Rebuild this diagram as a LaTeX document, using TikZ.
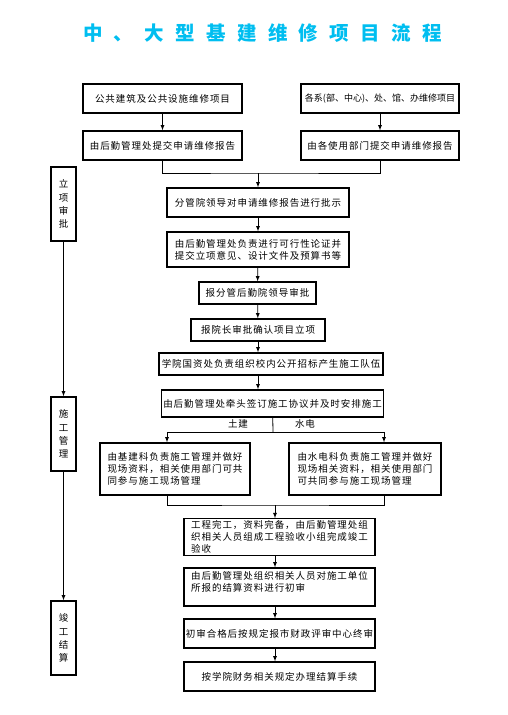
\documentclass[tikz,border=0pt]{standalone}
\usepackage{fontspec}
\setmainfont{Noto Sans CJK SC}
\definecolor{titlecyan}{RGB}{0,190,240}
\newcommand{\boxfont}{\fontsize{9.5}{11.8}\selectfont\addfontfeature{LetterSpace=10}}
\newcommand{\sidefont}{\fontsize{9.5}{13.3}\selectfont}
\tikzset{
  procbox/.style={draw,line width=1.3pt,minimum height=29pt,inner sep=2pt,font=\boxfont},
  sidebox/.style={draw,line width=1.3pt,minimum width=25pt,minimum height=74pt,align=center,font=\sidefont},
  flow/.style={->,>=latex,line width=0.8pt},
  link/.style={line width=0.8pt},
}
\begin{document}
\begin{tikzpicture}[x=1pt,y=-1pt]
\useasboundingbox (0,0) rectangle (507,715);
\node[anchor=west,inner sep=0pt,text=titlecyan,font=\fontsize{19.5}{21}\selectfont\bfseries\addfontfeature{LetterSpace=58}] (T) at (83,33) {中、大型基建维修项目流程};
% project approval
\node[procbox,minimum width=159pt] (P1) at (162.5,98.5) {公共建筑及公共设施维修项目};
\node[procbox,minimum width=158pt,font=\fontsize{9}{11}\selectfont] (P2) at (380,98.5) {各系(部、中心)、处、馆、办维修项目};
\node[procbox,minimum width=159pt] (P3) at (162.5,145.5) {由后勤管理处提交申请维修报告};
\node[procbox,minimum width=158pt] (P4) at (380,145.5) {由各使用部门提交申请维修报告};
\node[procbox,minimum width=182pt] (P5) at (258,202.5) {分管院领导对申请维修报告进行批示};
\node[procbox,minimum width=182pt,minimum height=35pt,align=center] (P6) at (258,249.5) {由后勤管理处负责进行可行性论证并\\提交立项意见、设计文件及预算书等};
\node[procbox,minimum width=117pt,minimum height=22pt] (P7) at (257.5,293) {报分管后勤院领导审批};
\node[procbox,minimum width=134pt,minimum height=22pt] (P8) at (258,330) {报院长审批确认项目立项};
% construction
\node[procbox,minimum width=224pt,minimum height=22pt] (P9) at (271,364) {学院国资处负责组织校内公开招标产生施工队伍};
\node[procbox,minimum width=221pt,minimum height=27pt] (P10) at (272.5,403.5) {由后勤管理处牵头签订施工协议并及时安排施工};
\node[procbox,minimum width=150pt,minimum height=52pt,align=left] (P11) at (175,469) {由基建科负责施工管理并做好\\现场资料，相关使用部门可共\\同参与施工现场管理};
\node[procbox,minimum width=152pt,minimum height=52pt,align=left] (P12) at (365,469) {由水电科负责施工管理并做好\\现场相关资料，相关使用部门\\可共同参与施工现场管理};
\node[font=\boxfont] (L1) at (238,424) {土建};
\node[font=\boxfont] (L2) at (305,424) {水电};
% completion and settlement
\node[procbox,minimum width=191pt,minimum height=36pt,align=left] (P13) at (279.5,537) {工程完工，资料完备，由后勤管理处组\\织相关人员组成工程验收小组完成竣工\\验收};
\node[procbox,minimum width=191pt,minimum height=38pt,align=left] (P14) at (279.5,587) {由后勤管理处组织相关人员对施工单位\\所报的结算资料进行初审\\~};
\node[procbox,minimum width=191pt] (P15) at (279.5,633.5) {初审合格后按规定报市财政评审中心终审};
\node[procbox,minimum width=191pt] (P16) at (279.5,676.5) {按学院财务相关规定办理结算手续};
% stages
\node[sidebox] (S1) at (63.5,204) {立\\项\\审\\批};
\node[sidebox] (S2) at (63.5,434) {施\\工\\管\\理};
\node[sidebox] (S3) at (63.5,638) {竣\\工\\结\\算};
\draw[flow] (S1) -- (S2);
\draw[flow] (S2) -- (S3);
% connectors
\coordinate (M1) at (258,173);
\coordinate (B1) at (273,432);
\coordinate (BL) at (167,432);
\coordinate (BR) at (384,432);
\coordinate (M2) at (275,505);
\draw[flow] (P1) -- (P3);
\draw[flow] (P2) -- (P4);
\draw[link] (P3.south) |- (M1) -| (P4.south);
\draw[flow] (M1) -- (P5);
\draw[flow] (P5) -- (P6);
\draw[flow] (P6) -- (P7);
\draw[flow] (P7) -- (P8);
\draw[flow] (P8) -- (P8 |- P9.north);
\draw[flow] (P8 |- P9.south) -- (P8 |- P10.north);
\draw[link] (P10) -- (B1);
\draw[link] (BL) -- (BR);
\draw[flow] (BL) -- (BL |- P11.north);
\draw[flow] (BR) -- (BR |- P12.north);
\draw[link] (BL |- P11.south) |- (M2) -| (BR |- P12.south);
\draw[flow] (M2) -- (M2 |- P13.north);
\draw[flow] (M2 |- P13.south) -- (M2 |- P14.north);
\draw[flow] (M2 |- P14.south) -- (M2 |- P15.north);
\draw[flow] (M2 |- P15.south) -- (M2 |- P16.north);
\end{tikzpicture}
\end{document}
